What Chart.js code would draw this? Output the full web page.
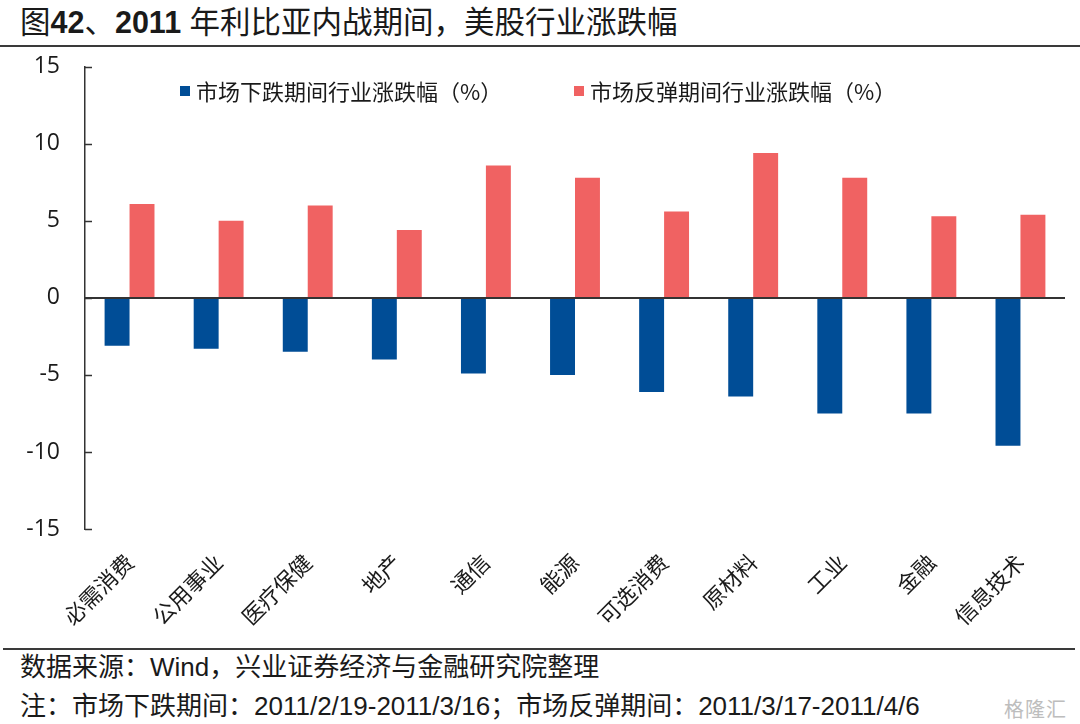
<!DOCTYPE html>
<html>
<head>
<meta charset="utf-8">
<script src="https://cdn.jsdelivr.net/npm/chart.js@4.4.0/dist/chart.umd.min.js"></script>
<style>
  body { margin: 0; background: #fff; }
  #page { position: relative; width: 1080px; height: 724px; overflow: hidden; background: #fff; color: #1a1a1a;
          font-family: "Liberation Sans", "Noto Sans CJK SC", sans-serif; }
  .title { position: absolute; left: 20px; top: 4px; font-size: 30.5px; line-height: 36px; white-space: nowrap; }
  .title b { font-weight: bold; }
  .rule { position: absolute; left: 0; width: 1080px; height: 2px; background: #3a3a3a; }
  .rule.top { top: 45px; }
  .rule.bottom { top: 648px; left: 3px; width: 1072px; }
  .wrap { position: absolute; left: 0; top: 28px; width: 1080px; height: 618px; }
  .legend { position: absolute; top: 75px; left: 0; width: 1080px; height: 30px; z-index: 2;
            font-family: "Noto Sans CJK SC", sans-serif; font-size: 22px; line-height: 30px; }
  .legend span { position: absolute; white-space: nowrap; }
  .legend i { position: absolute; width: 10px; height: 10px; top: 11px; }
  .foot { position: absolute; left: 20px; font-size: 26px; line-height: 32px; white-space: nowrap; }
  .foot.l1 { top: 651px; }
  .foot.l2 { top: 690px; }
  .mark { position: absolute; left: 1004px; top: 694px; font-family: "Noto Sans CJK SC", sans-serif;
          font-size: 20px; color: #bdbdbd; letter-spacing: 1px; }
</style>
</head>
<body>
<div id="page">
  <div class="title">图<b>42</b>、<b>2011</b> 年利比亚内战期间，美股行业涨跌幅</div>
  <div class="rule top"></div>
  <div class="wrap"><canvas id="chart" width="1080" height="618"></canvas></div>
  <div class="legend" id="legend"></div>
  <div class="rule bottom"></div>
  <div class="foot l1">数据来源：Wind，兴业证券经济与金融研究院整理</div>
  <div class="foot l2">注：市场下跌期间：2011/2/19-2011/3/16；市场反弹期间：2011/3/17-2011/4/6</div>
  <div class="mark">格隆汇</div>
</div>
<script>
const categories = ['必需消费', '公用事业', '医疗保健', '地产', '通信', '能源', '可选消费', '原材料', '工业', '金融', '信息技术'];
const fallValues = [-3.1, -3.3, -3.5, -4.0, -4.9, -5.0, -6.1, -6.4, -7.5, -7.5, -9.6];
const reboundValues = [6.1, 5.0, 6.0, 4.4, 8.6, 7.8, 5.6, 9.4, 7.8, 5.3, 5.4];
const yTicks = [-15, -10, -5, 0, 5, 10, 15];
const seriesNames = ['市场下跌期间行业涨跌幅（%）', '市场反弹期间行业涨跌幅（%）'];
const seriesColors = ['#004d96', '#f06262'];

// legend sits inside the plot, so it is drawn as html on top of the canvas
const legendPos = [180, 574];
const legendEl = document.getElementById('legend');
seriesNames.forEach((name, i) => {
  const sw = document.createElement('i');
  sw.style.left = legendPos[i] + 'px';
  sw.style.background = seriesColors[i];
  const txt = document.createElement('span');
  txt.style.left = (legendPos[i] + 16) + 'px';
  txt.textContent = name;
  legendEl.appendChild(sw);
  legendEl.appendChild(txt);
});

// inward y ticks and the zero line drawn over the bars
const axisMarks = {
  id: 'axisMarks',
  afterDatasetsDraw(chart) {
    const { ctx, chartArea, scales: { y } } = chart;
    ctx.save();
    ctx.strokeStyle = '#333';
    ctx.lineWidth = 1.5;
    y.ticks.forEach((t) => {
      const py = Math.round(y.getPixelForValue(t.value)) + 0.5;
      ctx.beginPath();
      ctx.moveTo(chartArea.left, py);
      ctx.lineTo(chartArea.left + 7, py);
      ctx.stroke();
    });
    const z = y.getPixelForValue(0);
    ctx.lineWidth = 2;
    ctx.beginPath();
    ctx.moveTo(chartArea.left, z);
    ctx.lineTo(chartArea.right, z);
    ctx.stroke();
    ctx.restore();
  },
};

new Chart(document.getElementById('chart'), {
  type: 'bar',
  data: {
    labels: categories,
    datasets: [
      { label: seriesNames[0], data: fallValues, backgroundColor: seriesColors[0], borderWidth: 0 },
      { label: seriesNames[1], data: reboundValues, backgroundColor: seriesColors[1], borderWidth: 0 },
    ],
  },
  options: {
    responsive: false,
    animation: false,
    categoryPercentage: 0.56,
    barPercentage: 1,
    layout: { padding: { top: 0, right: 15, left: 0, bottom: 0 } },
    plugins: { legend: { display: false }, tooltip: { enabled: false } },
    scales: {
      x: {
        grid: { display: false, drawTicks: false },
        border: { display: false },
        ticks: {
          color: '#1a1a1a',
          minRotation: 45,
          maxRotation: 45,
          padding: 20,
          autoSkip: false,
          font: { family: '"Noto Sans CJK SC", sans-serif', size: 22 },
        },
        afterFit: (s) => { s.height = 117; },
      },
      y: {
        min: -15,
        max: 15,
        afterBuildTicks: (s) => { s.ticks = yTicks.map((v) => ({ value: v })); },
        grid: { display: true, drawOnChartArea: false, drawTicks: false },
        border: { display: true, color: '#333', width: 1.5 },
        ticks: {
          color: '#1a1a1a',
          padding: 25,
          font: { family: '"Open Sans", sans-serif', size: 23 },
        },
        afterFit: (s) => { s.width = 85; },
      },
    },
  },
  plugins: [axisMarks],
});
</script>
</body>
</html>
